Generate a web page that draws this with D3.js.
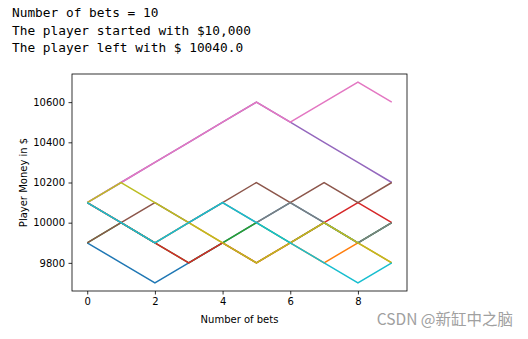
<!DOCTYPE html>
<html>
<head>
<meta charset="utf-8">
<script src="https://cdn.jsdelivr.net/npm/d3@7"></script>
<style>
  body { margin: 0; background: #fff; }
  .out { font-family: "DejaVu Sans Mono", monospace; font-size: 12.8px; fill: #000; }
  .tick text { font-family: "DejaVu Sans", sans-serif; font-size: 10px; fill: #000; }
  .axis-label { font-family: "DejaVu Sans", sans-serif; font-size: 10px; fill: #000; }
  .mark { font-family: "Noto Sans CJK SC", sans-serif; font-size: 15.5px; fill: #a0a0a0; }
</style>
</head>
<body>
<svg id="chart" width="528" height="339"></svg>
<script>
const outputLines = [
  "Number of bets = 10",
  "The player started with $10,000",
  "The player left with $ 10040.0"
];

const bets = [0, 1, 2, 3, 4, 5, 6, 7, 8, 9];
const xTicks = [0, 2, 4, 6, 8];
const yTicks = [9800, 10000, 10200, 10400, 10600];

// one run per line, tab10 order
const run0 = [9900, 9800, 9700, 9800, 9900, 10000, 10100, 10000, 9900, 10000];
const run1 = [10100, 10000, 9900, 10000, 9900, 9800, 9900, 9800, 9900, 9800];
const run2 = [9900, 10000, 9900, 9800, 9900, 10000, 9900, 10000, 9900, 10000];
const run3 = [10100, 10000, 9900, 9800, 9900, 9800, 9900, 10000, 10100, 10000];
const run4 = [10100, 10200, 10300, 10400, 10500, 10600, 10500, 10400, 10300, 10200];
const run5 = [9900, 10000, 10100, 10000, 10100, 10200, 10100, 10200, 10100, 10200];
const run6 = [10100, 10200, 10300, 10400, 10500, 10600, 10500, 10600, 10700, 10600];
const run7 = [10100, 10000, 9900, 10000, 10100, 10000, 10100, 10000, 9900, 10000];
const run8 = [10100, 10200, 10100, 10000, 9900, 9800, 9900, 10000, 9900, 9800];
const run9 = [10100, 10000, 9900, 10000, 10100, 10000, 9900, 9800, 9700, 9800];
const runs = [run0, run1, run2, run3, run4, run5, run6, run7, run8, run9];

const colors = ["#1f77b4", "#ff7f0e", "#2ca02c", "#d62728", "#9467bd",
                "#8c564b", "#e377c2", "#7f7f7f", "#bcbd22", "#17becf"];

const svg = d3.select("#chart");

svg.selectAll(".out")
  .data(outputLines)
  .enter()
  .append("text")
  .attr("class", "out")
  .attr("x", 12)
  .attr("y", (d, i) => 17 + i * 17.5)
  .text((d) => d);

const plot = { left: 72, right: 407, top: 74, bottom: 291 };

const x = d3.scaleLinear().domain([-0.45, 9.45]).range([plot.left, plot.right]);
const y = d3.scaleLinear().domain([9660, 10740]).range([plot.bottom, plot.top]);

const line = d3.line()
  .x((d, i) => x(bets[i]))
  .y((d) => y(d));

svg.append("g")
  .selectAll("path")
  .data(runs)
  .enter()
  .append("path")
  .attr("fill", "none")
  .attr("stroke", (d, i) => colors[i])
  .attr("stroke-width", 1.5)
  .attr("d", line);

const xAxis = svg.append("g")
  .attr("transform", `translate(0,${plot.bottom})`)
  .call(d3.axisBottom(x).tickValues(xTicks).tickSize(3.5).tickPadding(3.5).tickFormat(d3.format("d")));

const yAxis = svg.append("g")
  .attr("transform", `translate(${plot.left},0)`)
  .call(d3.axisLeft(y).tickValues(yTicks).tickSize(3.5).tickPadding(3.5).tickFormat(d3.format("d")));

[xAxis, yAxis].forEach((a) => {
  a.select(".domain").remove();
  a.selectAll(".tick line").attr("stroke", "#000").attr("stroke-width", 0.8);
});

svg.append("rect")
  .attr("x", plot.left)
  .attr("y", plot.top)
  .attr("width", plot.right - plot.left)
  .attr("height", plot.bottom - plot.top)
  .attr("fill", "none")
  .attr("stroke", "#000")
  .attr("stroke-width", 0.8);

svg.append("text")
  .attr("class", "axis-label")
  .attr("x", (plot.left + plot.right) / 2)
  .attr("y", 323)
  .attr("text-anchor", "middle")
  .text("Number of bets");

svg.append("text")
  .attr("class", "axis-label")
  .attr("transform", `translate(27,${(plot.top + plot.bottom) / 2}) rotate(-90)`)
  .attr("text-anchor", "middle")
  .text("Player Money in $");

svg.append("text")
  .attr("class", "mark")
  .attr("x", 513)
  .attr("y", 325)
  .attr("text-anchor", "end")
  .text("CSDN @新缸中之脑");
</script>
</body>
</html>
